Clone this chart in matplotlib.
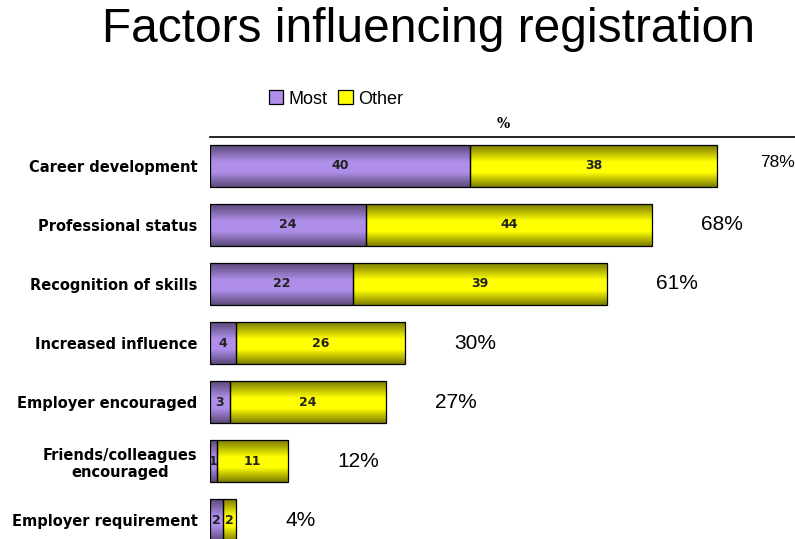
import matplotlib.pyplot as plt
import numpy as np
from matplotlib.colors import LinearSegmentedColormap

# data
categories = ["Career development", "Professional status", "Recognition of skills",
              "Increased influence", "Employer encouraged",
              "Friends/colleagues\nencouraged", "Employer requirement"]
most = [40, 24, 22, 4, 3, 1, 2]
other = [38, 44, 39, 26, 24, 11, 2]
totals = [78, 68, 61, 30, 27, 12, 4]

purple = "#AE8EE8"
yellow = "#FFFF00"

fig = plt.figure(figsize=(7.95, 5.39), dpi=100)
ax = fig.add_axes([210 / 795, 0, 1 - 210 / 795, 1 - 137 / 539])

y = np.arange(len(categories))
h = 0.71
b1 = ax.barh(y, most, height=h, color=purple, edgecolor="black", linewidth=0.9, label="Most")
b2 = ax.barh(y, other, left=most, height=h, color=yellow, edgecolor="black", linewidth=0.9, label="Other")

# shaded look: dark top and bottom, bright middle
def shade(bars, base, dark):
    cmap = LinearSegmentedColormap.from_list(
        "g", [(0, dark), (0.4, base), (0.65, base), (1, dark)])
    grad = np.linspace(0, 1, 256).reshape(-1, 1)
    for p in bars.patches:
        x0, y0, w, hh = p.get_x(), p.get_y(), p.get_width(), p.get_height()
        im = ax.imshow(grad, cmap=cmap, aspect="auto", origin="lower",
                       extent=[x0, x0 + w, y0, y0 + hh],
                       zorder=0.9, interpolation="nearest")
        im.set_clip_path(p)
        p.set_facecolor("none")

shade(b1, purple, "#5A4878")
shade(b2, yellow, "#7A7A00")

xmax = 90
for i in range(len(categories)):
    ax.text(most[i] / 2, y[i], str(most[i]), ha="center", va="center",
            fontsize=9, fontweight="bold", color="#222222")
    ax.text(most[i] + other[i] / 2, y[i], str(other[i]), ha="center", va="center",
            fontsize=9, fontweight="bold", color="#222222")
    # the label that would run off the right edge is squeezed in smaller
    if totals[i] + 7.6 + 6.5 > xmax:
        ax.text(xmax, y[i] - 0.06, f"{totals[i]}%", ha="right", va="center",
                fontsize=12.5, family="Liberation Sans", color="black")
    else:
        ax.text(totals[i] + 7.6, y[i], f"{totals[i]}%", ha="left", va="center",
                fontsize=15, family="Liberation Sans", color="black")

ax.set_xlim(0, xmax)
ax.set_ylim(6.32, -0.49)
ax.set_yticks(y)
ax.set_yticklabels(categories, fontsize=10.5, fontweight="bold", multialignment="center")
ax.tick_params(axis="y", length=0, pad=9)
ax.set_xticks([])
for s in ["left", "right", "bottom"]:
    ax.spines[s].set_visible(False)
ax.spines["top"].set_linewidth(1.2)

fig.text(503 / 795, 1 - 124 / 539, "%", ha="center", va="center",
         fontsize=10, fontweight="bold", family="DejaVu Serif")
fig.text(428 / 795, 1 - 30 / 539, "Factors influencing registration", ha="center", va="center",
         fontsize=34.5, family="Liberation Sans")

leg = fig.legend(handles=[b1, b2], labels=["Most", "Other"], loc="center",
                 bbox_to_anchor=(336 / 795, 1 - 99 / 539), ncol=2, frameon=False,
                 handlelength=0.8, handleheight=0.8, handletextpad=0.3,
                 columnspacing=0.6, prop={"family": "Liberation Sans", "size": 13})
leg.legend_handles[0].set_facecolor(purple)
leg.legend_handles[1].set_facecolor(yellow)

fig.savefig("out.png", dpi=100)
